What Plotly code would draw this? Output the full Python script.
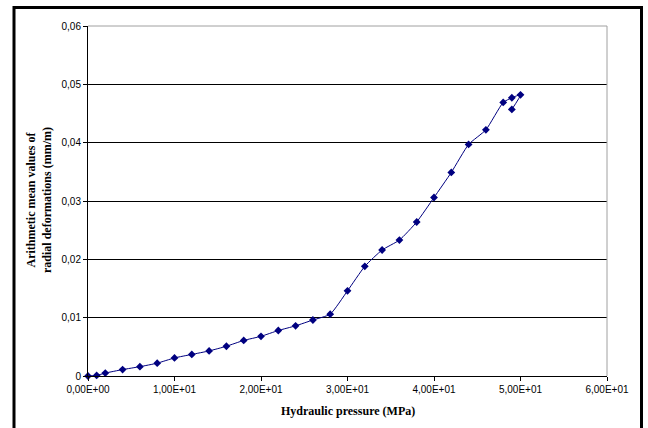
import plotly.graph_objects as go

pressure = [0, 1, 2, 4, 6, 8, 10, 12, 14, 16, 18, 20, 22, 24, 26, 28, 30, 32, 34, 36, 38, 40, 42, 44, 46, 48, 49, 50, 49]
deformation = [0.0, 0.0001, 0.0005, 0.0011, 0.0016, 0.0022, 0.0031, 0.0037, 0.0043, 0.0051, 0.0061, 0.0068,
               0.0078, 0.0086, 0.0096, 0.0106, 0.0146, 0.0188, 0.0216, 0.0233, 0.0264, 0.0306, 0.0349, 0.0397,
               0.0422, 0.0469, 0.0477, 0.0482, 0.0457]

x_ticks = [0, 10, 20, 30, 40, 50, 60]
x_tick_text = ["0,00E+00", "1,00E+01", "2,00E+01", "3,00E+01", "4,00E+01", "5,00E+01", "6,00E+01"]
y_ticks = [0, 0.01, 0.02, 0.03, 0.04, 0.05, 0.06]
y_tick_text = ["0", "0,01", "0,02", "0,03", "0,04", "0,05", "0,06"]

x_title = "Hydraulic pressure (MPa)"
y_title = "Arithmetic mean values of<br>radial deformations (mm/m)"

W, H = 648, 428
L, R, T, B = 88, 607, 26, 376

fig = go.Figure()
fig.add_trace(go.Scatter(
    x=pressure, y=deformation, mode="lines+markers",
    line=dict(color="#000080", width=1, shape="spline", smoothing=0.5),
    marker=dict(symbol="diamond", size=6, color="#000080"),
    showlegend=False, cliponaxis=False,
))

tick_font = dict(family="Liberation Sans, Arial", size=10, color="#000")
fig.update_layout(
    width=W, height=H,
    margin=dict(l=L, r=W - R, t=T, b=H - B, pad=0),
    paper_bgcolor="white", plot_bgcolor="white",
    xaxis=dict(range=[0, 60], tickvals=x_ticks, ticktext=x_tick_text, showgrid=False,
               showline=True, linecolor="black", linewidth=1, ticks="outside", ticklen=4,
               tickcolor="black", tickfont=tick_font, zeroline=False, fixedrange=True),
    yaxis=dict(range=[0, 0.06], tickvals=y_ticks, ticktext=y_tick_text, showgrid=True,
               gridcolor="black", gridwidth=1, showline=True, linecolor="black", linewidth=1,
               ticks="outside", ticklen=4, tickcolor="black", tickfont=tick_font,
               zeroline=False, fixedrange=True),
)

def px(xp):
    return (xp - L) / (R - L)

def py(yp):
    return (B - yp) / (B - T)

# plot-area border (gray) on top and right
fig.add_shape(type="line", xref="paper", yref="paper", x0=0, x1=1, y0=1, y1=1,
              line=dict(color="#a0a0a0", width=1))
fig.add_shape(type="line", xref="paper", yref="paper", x0=1, x1=1, y0=0, y1=1,
              line=dict(color="#a0a0a0", width=1))
# outer chart frame
fig.add_shape(type="rect", xref="paper", yref="paper",
              x0=px(14), x1=px(641.5), y0=py(445), y1=py(7.5),
              line=dict(color="black", width=3), layer="above")

title_font = dict(family="Liberation Serif, Times New Roman", size=12, color="#000")
fig.add_annotation(text="<b>" + x_title + "</b>", xref="paper", yref="paper",
                   x=px(348), y=py(411), showarrow=False, font=title_font,
                   xanchor="center", yanchor="middle")
fig.add_annotation(text="<b>" + y_title.replace("<br>", "</b><br><b>") + "</b>", xref="paper", yref="paper",
                   x=px(39), y=py(200), showarrow=False, font=title_font, textangle=-90,
                   xanchor="center", yanchor="middle")

fig.write_html("out.html")
